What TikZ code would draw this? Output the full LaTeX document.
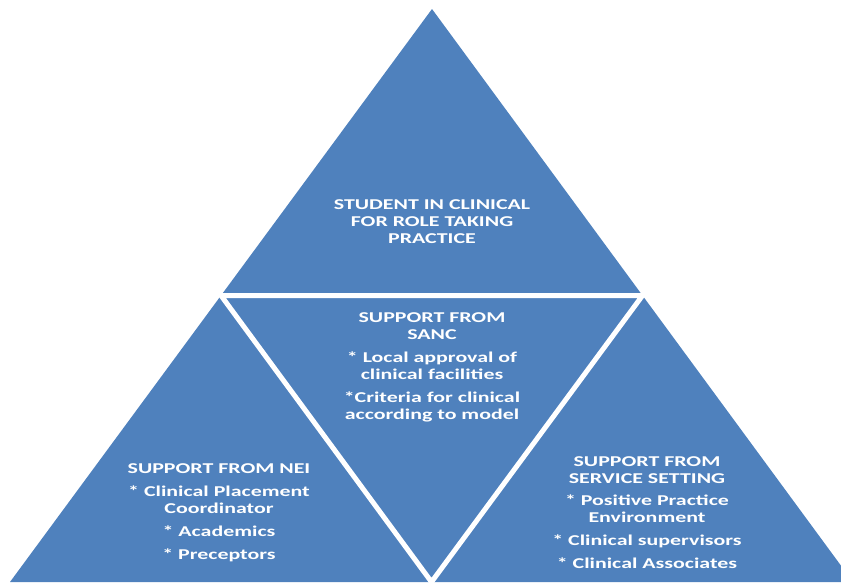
\documentclass[tikz,border=0pt]{standalone}
\usepackage{fontspec}
\usepackage{tikz}
\usetikzlibrary{positioning,calc}
\newfontfamily\calfont{Carlito}
\definecolor{panelblue}{RGB}{79,129,189}

\tikzset{
  panel/.style={fill=panelblue, draw=none},
  split/.style={draw=white, line width=5pt, line join=miter},
  tritext/.style={text=white, align=center, inner sep=0pt,
    font=\calfont\bfseries\fontsize{15}{17}\selectfont,
    xscale=1.46, transform shape}
}

\begin{document}
\begin{tikzpicture}[x=1pt, y=-1pt]
\useasboundingbox (0,0) rectangle (841,582);
\clip (0,0) rectangle (841,582);

% outer triangle and its corners
\coordinate (apex) at (432,9);
\coordinate (bl) at (10,582);
\coordinate (br) at (853,582);
\fill[panel] (apex) -- (bl) -- (br) -- cycle;

% midpoints, split into four
\coordinate (ml) at ($(apex)!0.5!(bl)$);
\coordinate (mr) at ($(apex)!0.5!(br)$);
\coordinate (mb) at ($(bl)!0.5!(br)$);
\draw[split] (ml) -- (mr) -- (mb) -- cycle;

% text centres
\coordinate (ctop) at (432,222);
\coordinate (cmid) at (432,367);
\coordinate (cleft) at (219,513);
\coordinate (cright) at (647,513);

\node[tritext] (student) at (ctop)
  {STUDENT IN CLINICAL\\FOR ROLE TAKING\\PRACTICE};
\node[tritext] (sanc) at (cmid)
  {SUPPORT FROM\\SANC\\[6pt]* Local approval of\\clinical facilities\\[6pt]*Criteria for clinical\\according to model};
\node[tritext] (nei) at (cleft)
  {SUPPORT FROM NEI\\[6pt]* Clinical Placement\\Coordinator\\[6pt]* Academics\\[6pt]* Preceptors};
\node[tritext] (service) at (cright)
  {SUPPORT FROM\\SERVICE SETTING\\[5pt]* Positive Practice\\Environment\\[6pt]* Clinical supervisors\\[6pt]* Clinical Associates};

\end{tikzpicture}
\end{document}
